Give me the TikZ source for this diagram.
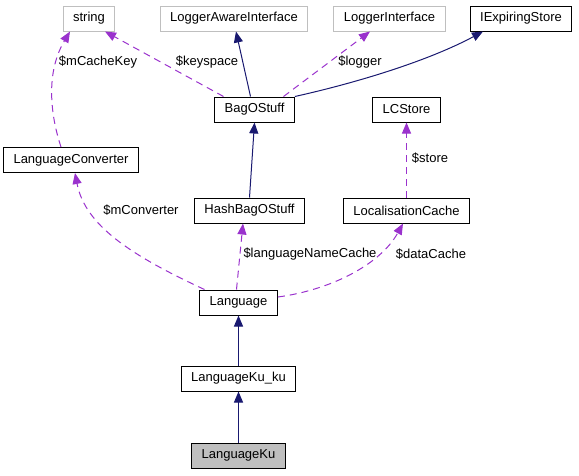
\documentclass[tikz,border=0pt]{standalone}
\usepackage{fontspec}
\setmainfont{Liberation Sans}
\usepackage{tikz}
\usetikzlibrary{arrows.meta,positioning}
\definecolor{edgepurple}{HTML}{9A32CD}
\definecolor{edgenavy}{HTML}{191970}
\definecolor{boxgray}{HTML}{BFBFBF}

\begin{document}
\begin{tikzpicture}[x=1pt, y=-1pt,
  cls/.style={draw, line width=1pt, rectangle, minimum height=25pt, inner xsep=10pt,
              inner ysep=0pt, font=\fontsize{13}{15}\selectfont},
  extcls/.style={cls, draw=boxgray},
  curcls/.style={cls, fill=boxgray},
  lbl/.style={font=\fontsize{13}{15}\selectfont, inner sep=1pt},
  inh/.style={draw=edgenavy, line width=1pt, -{Triangle[length=11pt,width=9pt]}, color=edgenavy},
  use/.style={draw=edgepurple, line width=1pt, dash pattern=on 7pt off 5pt,
              -{Triangle[length=11pt,width=9pt]}, color=edgepurple},
]
  \useasboundingbox (0,0) rectangle (579,475);
  % top row
  \node[extcls] (string) at (89,18.5) {string};
  \node[extcls] (lai) at (234,18.5) {LoggerAwareInterface};
  \node[extcls] (li) at (389.5,18.5) {LoggerInterface};
  \node[cls] (ies) at (521,18.5) {IExpiringStore};
  % middle
  \node[cls] (bag) at (254.5,109.5) {BagOStuff};
  \node[cls] (lcstore) at (406.5,109.5) {LCStore};
  \node[cls] (lconv) at (71,160) {LanguageConverter};
  \node[cls] (hash) at (249.5,210.5) {HashBagOStuff};
  \node[cls] (lcache) at (406.5,210.5) {LocalisationCache};
  % class chain
  \node[cls] (lang) at (238.5,302.5) {Language};
  \node[cls] (kuku) at (238.5,378.5) {LanguageKu\_ku};
  \node[curcls] (ku) at (238.5,455.5) {LanguageKu};
  % edges
  \draw[use] ([xshift=-10pt]lconv.north) .. controls (52,120) and (44,75) .. ([xshift=-19pt]string.south);
  \draw[use] ([xshift=-31pt]bag.north) -- ([xshift=16pt]string.south);
  \draw[inh] ([xshift=-4pt]bag.north) -- ([xshift=2pt]lai.south);
  \draw[use] ([xshift=29pt]bag.north) -- ([xshift=-19.5pt]li.south);
  \draw[inh] (bag.north east) .. controls (360,82) and (430,60) .. ([xshift=-38pt]ies.south);
  \draw[inh] (hash.north) -- (bag.south);
  \draw[use] (lcache) -- (lcstore);
  \draw[use] ([xshift=-34pt]lang.north) .. controls (130,255) and (85,225) .. ([xshift=4pt]lconv.south);
  \draw[use] ([xshift=-2pt]lang.north) -- ([xshift=-6.5pt]hash.south);
  \draw[use] ([yshift=5.5pt]lang.east) .. controls (330,290) and (380,265) .. ([xshift=-3.5pt]lcache.south);
  \draw[inh] (kuku) -- (lang);
  \draw[inh] (ku) -- (kuku);
  % labels
  \node[lbl] (lmcachekey) at (98,62) {\$mCacheKey};
  \node[lbl] (lkeyspace) at (207,62) {\$keyspace};
  \node[lbl] (llogger) at (360,62) {\$logger};
  \node[lbl] (lstore) at (430,158) {\$store};
  \node[lbl] (lmconverter) at (141,210) {\$mConverter};
  \node[lbl] (llangname) at (310,254) {\$languageNameCache};
  \node[lbl] (ldatacache) at (431,254) {\$dataCache};
\end{tikzpicture}
\end{document}
